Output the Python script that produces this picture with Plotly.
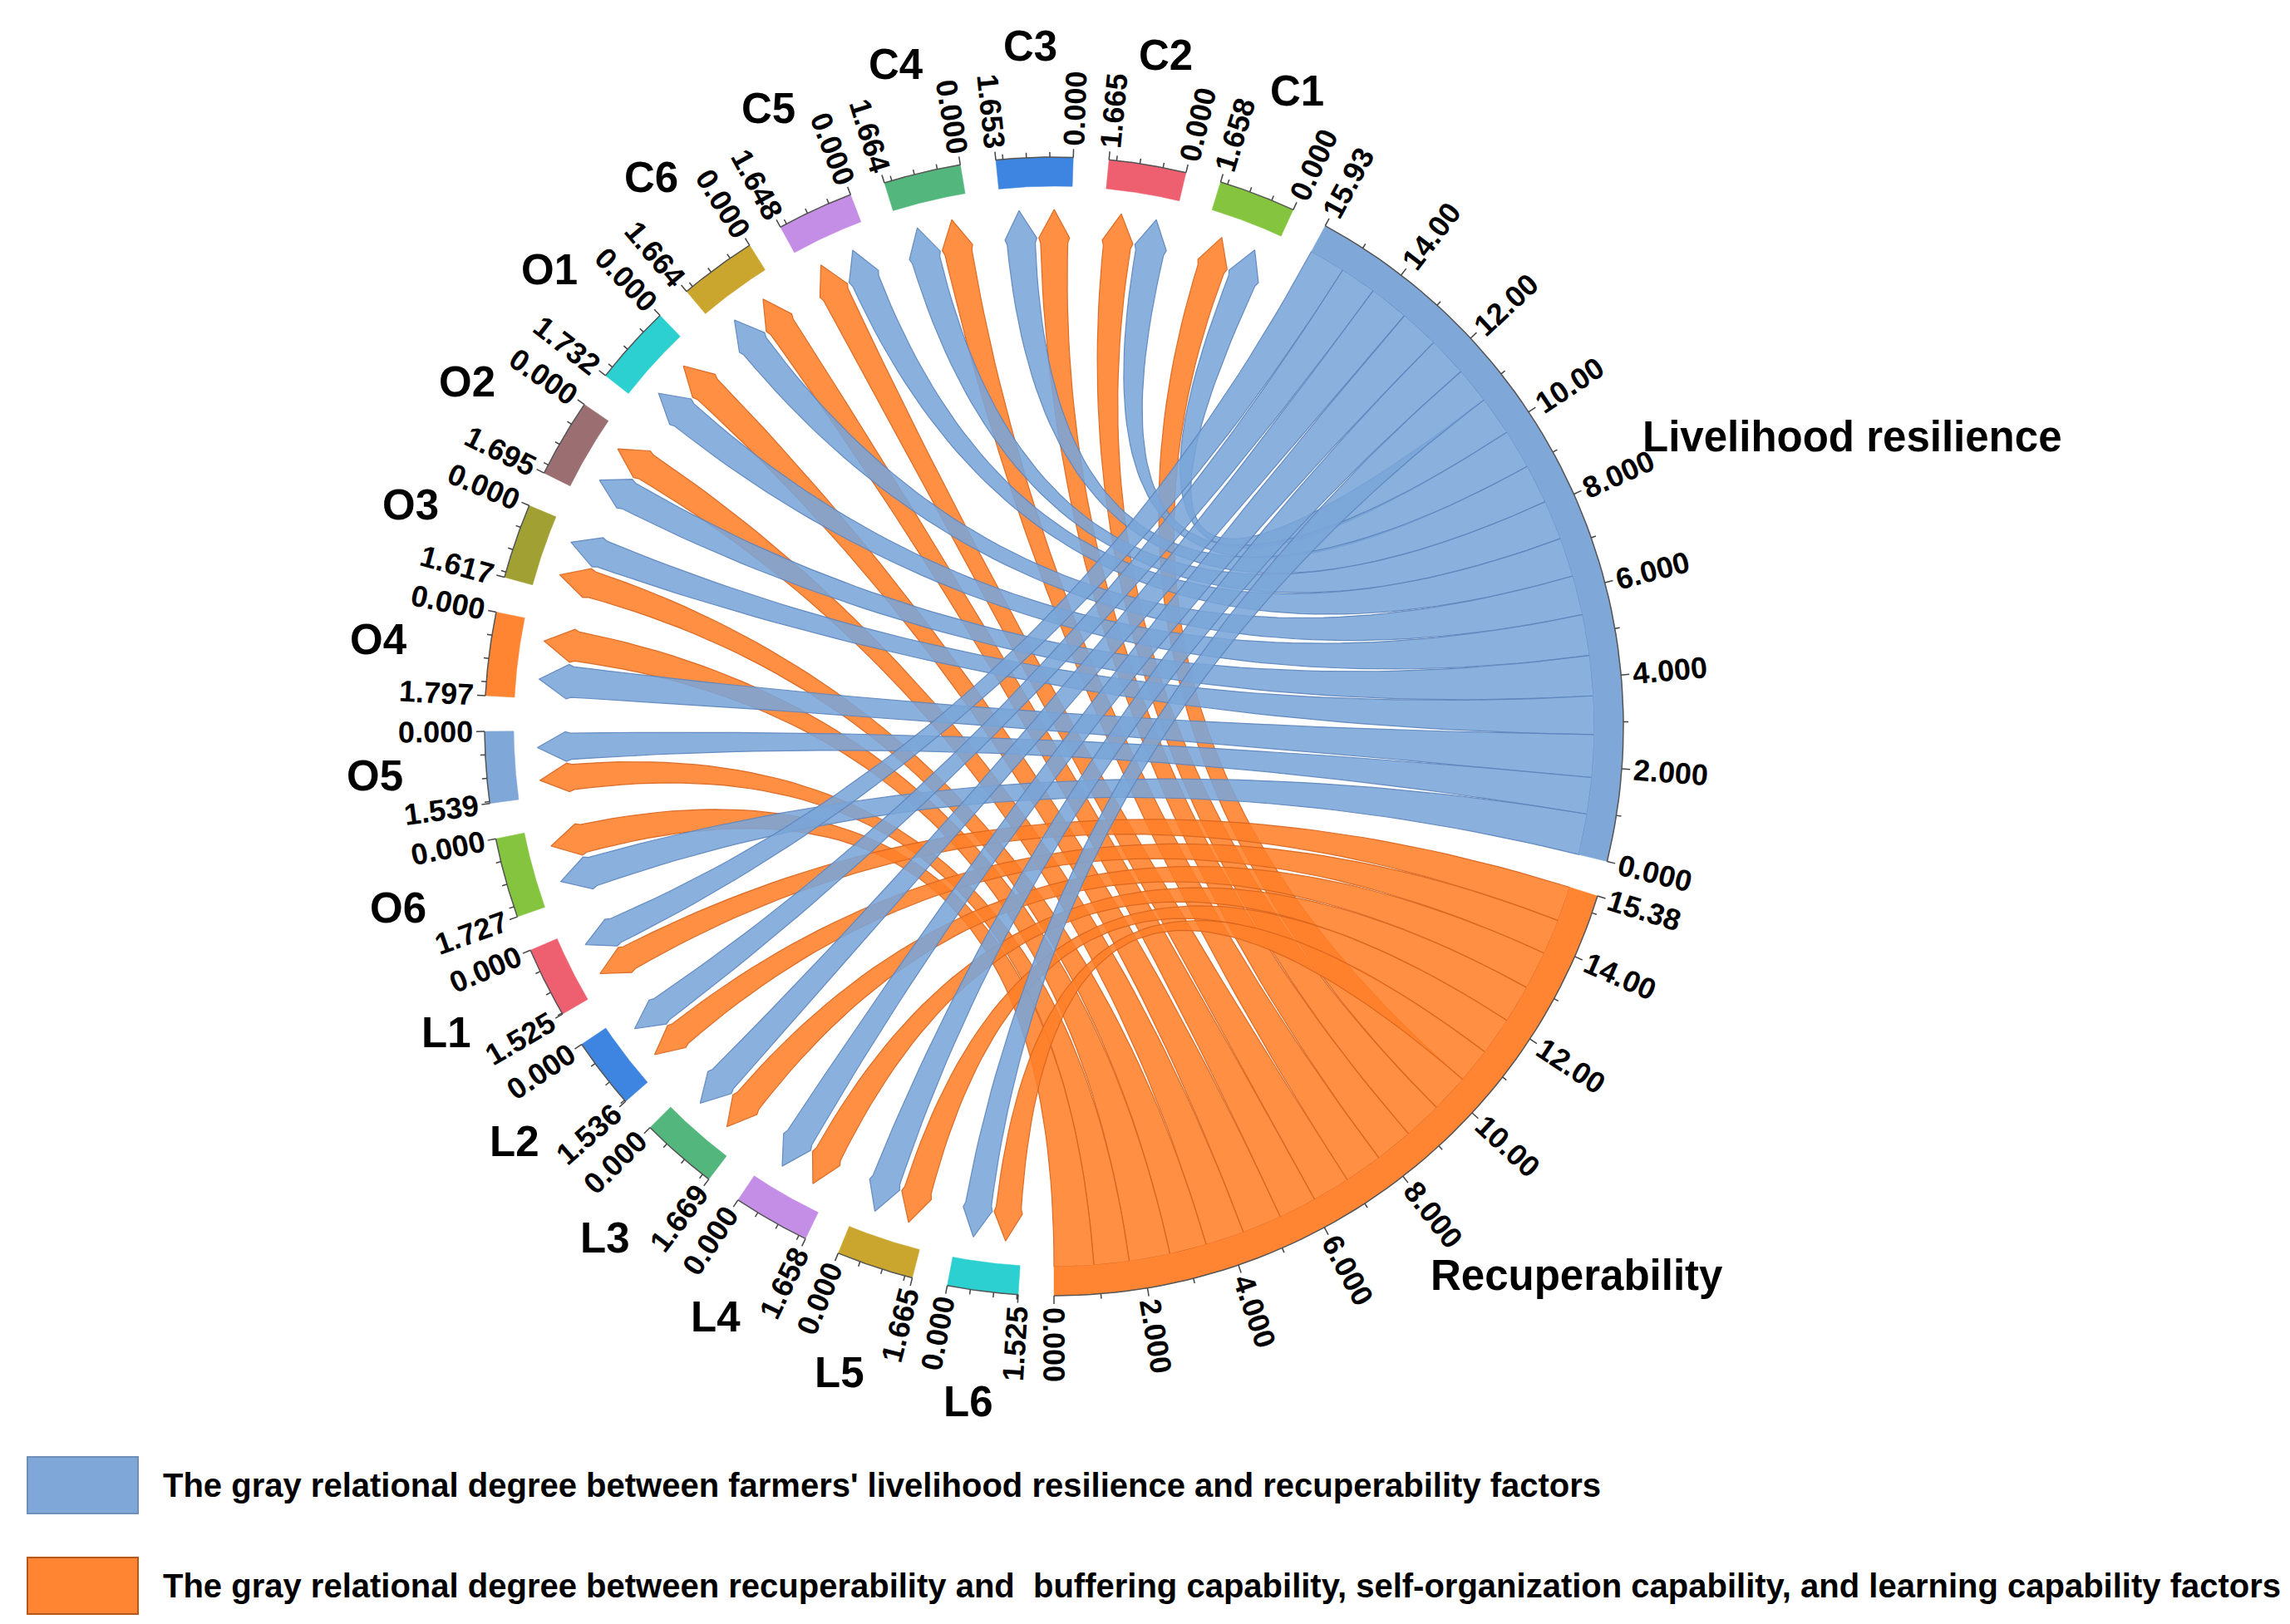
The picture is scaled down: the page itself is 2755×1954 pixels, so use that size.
import numpy as np
import plotly.graph_objects as go

W, H = 2755, 1954

# ---------------- data ----------------
small_labels = ["C1", "C2", "C3", "C4", "C5", "C6",
                "O1", "O2", "O3", "O4", "O5", "O6",
                "L1", "L2", "L3", "L4", "L5", "L6"]
small_totals = [1.658, 1.665, 1.653, 1.664, 1.648, 1.664,
                1.732, 1.695, 1.617, 1.797, 1.539, 1.727,
                1.525, 1.536, 1.669, 1.658, 1.665, 1.525]
# gray relational degree with livelihood resilience (blue links)
lr_degree = [0.891, 0.895, 0.888, 0.894, 0.886, 0.894,
             0.931, 0.911, 0.869, 0.966, 0.827, 0.928,
             0.820, 0.826, 0.898, 0.891, 0.895, 0.820]
# gray relational degree with recuperability (orange links)
rec_degree = [0.861, 0.864, 0.858, 0.864, 0.855, 0.864,
              0.899, 0.880, 0.839, 0.929, 0.799, 0.896,
              0.792, 0.797, 0.866, 0.861, 0.864, 0.792]
lr_name, lr_total = "Livelihood resilience", 15.93
rec_name, rec_total = "Recuperability", 15.38
big_ticks = [0, 2, 4, 6, 8, 10, 12, 14]
# link order along each big arc, starting from its 0 end
lr_order = ["O6", "O5", "O4", "O3", "O2", "O1", "C6", "C5", "C4", "C3", "C2", "C1",
            "L6", "L5", "L4", "L3", "L2", "L1"]
rec_order = ["O6", "O5", "O4", "O3", "O2", "O1", "C6", "C5", "C4", "C3", "C2", "C1",
             "L6", "L5", "L4", "L3", "L2", "L1"]
# which link sits at the 0-end of each factor arc (True = blue link first)
blue_first = [True, True, False, False, True, False,
              False, False, True, False, True, False,
              True, True, True, True, True, True]
legend_texts = [
    "The gray relational degree between farmers' livelihood resilience and recuperability factors",
    "The gray relational degree between recuperability and  buffering capability, self-organization capability, and learning capability factors",
]

# ---------------- styles ----------------
small_colors = ["#84C43F", "#EE6070", "#3D85E0", "#52B67D", "#C48EE6", "#CBA62E",
                "#2DD0D0", "#9B6E72", "#A1A133", "#FF8533", "#7FA7D8", "#84C43F",
                "#EE6070", "#3D85E0", "#52B67D", "#C48EE6", "#CBA62E", "#2DD0D0"]
LR_COLOR = "#7FA7D8"
REC_COLOR = "#FF8533"
BLUE_FILL = "rgba(122,165,216,0.88)"
BLUE_LINE = "rgba(92,132,188,0.9)"
ORANGE_FILL = "rgba(255,128,40,0.88)"
ORANGE_LINE = "rgba(215,100,30,0.9)"
FONT = "Liberation Sans, Arial, sans-serif"

CX, CY = 1260, 866
R_OUT, R_IN = 685, 650
R_BASE, R_TIP = 582, 622
GAP = 3.6

grand = lr_total + rec_total + sum(small_totals)
SCALE = (360 - GAP * 20) / grand
start = 270 - (lr_total + sum(small_totals)) * SCALE - 19 * GAP

# node layout (ccw): LR, small..., Rec
nodes = []
a = start
for name, val, col in [(lr_name, lr_total, LR_COLOR)] + \
        list(zip(small_labels, small_totals, small_colors)) + [(rec_name, rec_total, REC_COLOR)]:
    nodes.append(dict(name=name, value=val, a0=a, a1=a + val * SCALE, color=col))
    a = a + val * SCALE + GAP


def pt(r, ang):
    t = np.radians(ang)
    return CX + r * np.cos(t), CY - r * np.sin(t)


def arc(r, a0, a1, n=30):
    angs = np.linspace(a0, a1, n)
    return [pt(r, x) for x in angs]


def bezier(p, q, n=60):
    t = np.linspace(0, 1, n)
    xs = (1 - t) ** 2 * p[0] + 2 * t * (1 - t) * CX + t ** 2 * q[0]
    ys = (1 - t) ** 2 * p[1] + 2 * t * (1 - t) * CY + t ** 2 * q[1]
    return list(zip(xs, ys))


fig = go.Figure()

# ---------------- link slots ----------------
lr_node, rec_node = nodes[0], nodes[-1]


def slots(order, degrees, a_start):
    out, pos = {}, a_start
    for lab in order:
        w = degrees[small_labels.index(lab)] * SCALE
        out[lab] = (pos, pos + w)
        pos += w
    return out


lr_slots = slots(lr_order, lr_degree, lr_node["a0"])
rec_slots = slots(rec_order, rec_degree, rec_node["a0"])

chords = {"blue": [], "orange": []}
for i, nd in enumerate(nodes[1:-1]):
    b, o = lr_degree[i], rec_degree[i]
    span = nd["a1"] - nd["a0"]
    fb = b / (b + o)
    if blue_first[i]:
        bsub = (nd["a0"], nd["a0"] + span * fb)
        osub = (nd["a0"] + span * fb, nd["a1"])
    else:
        osub = (nd["a0"], nd["a0"] + span * (1 - fb))
        bsub = (nd["a0"] + span * (1 - fb), nd["a1"])
    chords["blue"].append((lr_slots[nd["name"]], bsub))
    chords["orange"].append((rec_slots[nd["name"]], osub))


def chord_path(big, sub):
    a0, a1 = big
    m = (sub[0] + sub[1]) / 2
    h = (sub[1] - sub[0]) / 2 * 0.84
    b0, b1 = m - h, m + h
    pts = []
    pts += bezier(pt(R_IN, a1), pt(R_BASE, b0))
    pts += [pt(R_BASE + 6, b0 - h * 0.12), pt(R_TIP, m), pt(R_BASE + 6, b1 + h * 0.12)]
    pts += bezier(pt(R_BASE, b1), pt(R_IN, a0))
    pts += arc(R_IN, a0, a1, 12)
    pts.append(pts[0])
    xs, ys = zip(*pts)
    return list(xs), list(ys)


for key, fill, line in [("orange", ORANGE_FILL, ORANGE_LINE), ("blue", BLUE_FILL, BLUE_LINE)]:
    for big, sub in chords[key]:
        xs, ys = chord_path(big, sub)
        fig.add_trace(go.Scatter(x=xs, y=ys, mode="lines", fill="toself",
                                 fillcolor=fill, line=dict(color=line, width=1.2),
                                 hoverinfo="skip", showlegend=False))

# ---------------- node arcs ----------------
for nd in nodes:
    outer = arc(R_OUT, nd["a0"], nd["a1"], 60)
    inner = arc(R_IN, nd["a1"], nd["a0"], 60)
    pts = outer + inner + [outer[0]]
    xs, ys = zip(*pts)
    fig.add_trace(go.Scatter(x=xs, y=ys, mode="lines", fill="toself",
                             fillcolor=nd["color"], line=dict(color=nd["color"], width=0.5),
                             hoverinfo="skip", showlegend=False))
    xs, ys = zip(*outer)
    fig.add_trace(go.Scatter(x=xs, y=ys, mode="lines", line=dict(color="#555555", width=1.5),
                             hoverinfo="skip", showlegend=False))

# ---------------- ticks & labels ----------------
tx, ty = [], []
annotations = []


def fmt(v):
    return f"{v:.3f}" if v < 10 else f"{v:.2f}"


def text_w(s, size):
    return sum(0.556 if c.isdigit() else 0.278 for c in s) * size


def add_tick(ang, length):
    p0, p1 = pt(R_OUT, ang), pt(R_OUT + length, ang)
    tx.extend([p0[0], p1[0], None])
    ty.extend([p0[1], p1[1], None])


TICK_SIZE = 36


def add_tick_label(ang, text, size=TICK_SIZE):
    w = text_w(text, size)
    r = R_OUT + 14 + w / 2
    x, y = pt(r, ang)
    c = np.cos(np.radians(ang))
    rot = -ang if c >= -1e-9 else -(ang + 180)
    rot = (rot + 180) % 360 - 180
    annotations.append(dict(x=x, y=y, xref="x", yref="y", text=text, showarrow=False,
                            textangle=rot, xanchor="center", yanchor="middle",
                            font=dict(family=FONT, size=size, color="black", weight="bold")))


for k, nd in enumerate(nodes):
    big = k == 0 or k == len(nodes) - 1
    if big:
        v = 0
        while v < nd["value"]:
            add_tick(nd["a0"] + v * SCALE, 10 if v % 2 == 0 else 6)
            v += 1
        for t in big_ticks:
            add_tick_label(nd["a0"] + t * SCALE, fmt(t))
        add_tick(nd["a1"], 10)
        add_tick_label(nd["a1"], fmt(nd["value"]))
    else:
        add_tick(nd["a0"], 10)
        add_tick(nd["a1"], 10)
        for v in [0.5, 1.0, 1.5]:
            if v < nd["value"]:
                add_tick(nd["a0"] + v * SCALE, 6)
        add_tick_label(nd["a0"], fmt(0))
        add_tick_label(nd["a1"], fmt(nd["value"]))

fig.add_trace(go.Scatter(x=tx, y=ty, mode="lines", line=dict(color="#444444", width=1.5),
                         hoverinfo="skip", showlegend=False))

# node names
for k, nd in enumerate(nodes):
    mid = (nd["a0"] + nd["a1"]) / 2
    if k == 0:
        x, y = pt(805, mid)
        annotations.append(dict(x=x - 30, y=y - 22, xref="x", yref="y", text=nd["name"],
                                showarrow=False, xanchor="left", yanchor="middle",
                                font=dict(family=FONT, size=51, color="black", weight="bold")))
    elif k == len(nodes) - 1:
        x, y = pt(805, mid)
        annotations.append(dict(x=x - 26, y=y + 12, xref="x", yref="y", text=nd["name"],
                                showarrow=False, xanchor="left", yanchor="middle",
                                font=dict(family=FONT, size=51, color="black", weight="bold")))
    else:
        x, y = pt(819, mid)
        annotations.append(dict(x=x, y=y, xref="x", yref="y", text=nd["name"], showarrow=False,
                                xanchor="center", yanchor="middle",
                                font=dict(family=FONT, size=51, color="black", weight="bold")))

# ---------------- legend ----------------
shapes = []
leg_colors = [(LR_COLOR, "#6F8FB8"), (REC_COLOR, "#B5581E")]
leg_y = [1779, 1900]
for (fc, lc), yc, txt in zip(leg_colors, leg_y, legend_texts):
    shapes.append(dict(type="rect", xref="x", yref="y", x0=25, x1=158, y0=yc - 34, y1=yc + 34,
                       fillcolor=fc, line=dict(color=lc, width=2)))
    annotations.append(dict(x=186, y=yc, xref="x", yref="y", text=txt, showarrow=False,
                            xanchor="left", yanchor="middle",
                            font=dict(family=FONT, size=40, color="black", weight="bold")))

fig.update_layout(
    width=W, height=H,
    margin=dict(l=0, r=0, t=0, b=0),
    paper_bgcolor="white", plot_bgcolor="white",
    xaxis=dict(range=[0, W], visible=False, fixedrange=True),
    yaxis=dict(range=[H, 0], visible=False, fixedrange=True),
    annotations=annotations, shapes=shapes, showlegend=False,
)

fig.write_html("out.html")
